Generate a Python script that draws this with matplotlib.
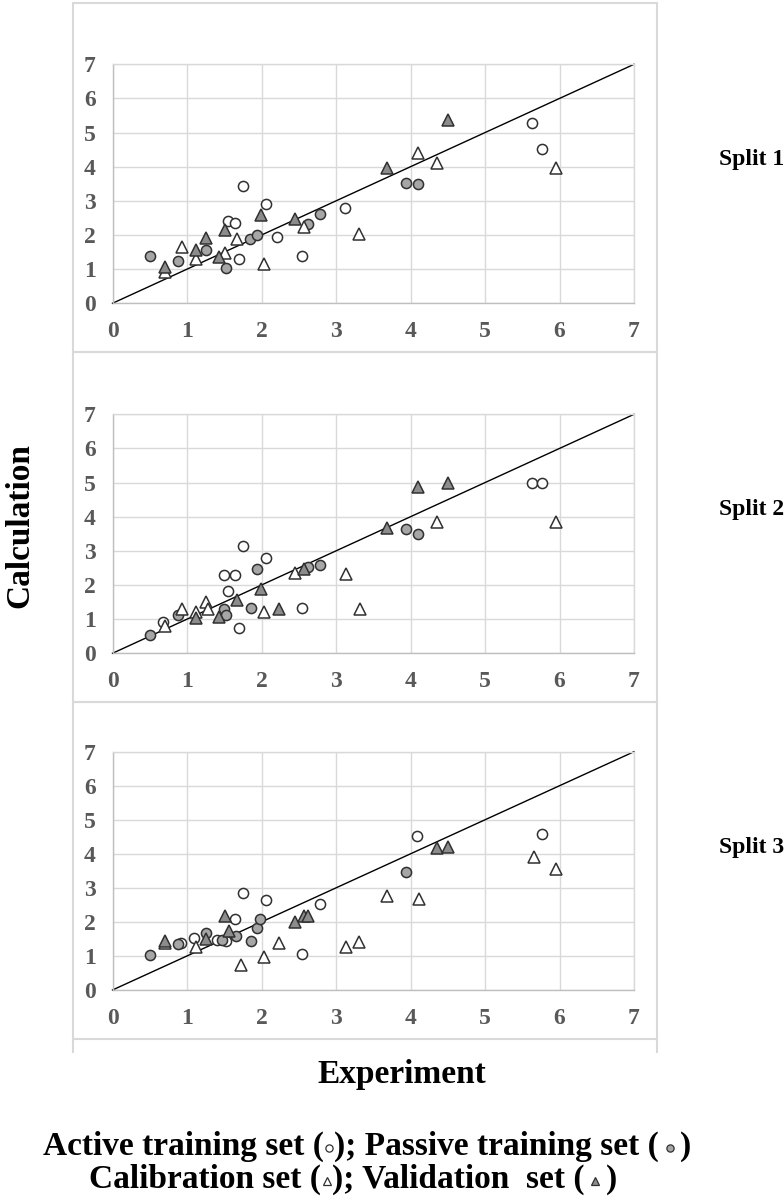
import numpy as np
import matplotlib
matplotlib.use('Agg')
import matplotlib.pyplot as plt
from matplotlib.lines import Line2D
from matplotlib.patches import Rectangle

# ── Data ──────────────────────────────────────────────────────────
SPLITS = ['Split 1', 'Split 2', 'Split 3']

# Split 1
s1_active_x = [1.555, 1.65, 1.75, 1.70, 2.06, 2.21, 2.55, 3.12, 5.63, 5.77]
s1_active_y = [2.42, 2.36, 3.45, 1.29, 2.90, 1.95, 1.39, 2.78, 5.27, 4.53]
s1_passive_x = [0.50, 0.875, 1.255, 1.52, 1.85, 1.94, 2.62, 2.79, 3.94, 4.10]
s1_passive_y = [1.39, 1.25, 1.56, 1.02, 1.87, 2.00, 2.32, 2.61, 3.51, 3.49]
s1_calib_x = [0.70, 0.93, 1.12, 1.51, 1.675, 2.04, 2.57, 3.31, 4.10, 4.35, 5.95]
s1_calib_y = [0.91, 1.66, 1.31, 1.46, 1.87, 1.15, 2.23, 2.02, 4.41, 4.10, 3.97]
s1_valid_x = [0.70, 1.12, 1.255, 1.43, 1.51, 1.99, 2.45, 3.68, 4.51]
s1_valid_y = [1.07, 1.56, 1.90, 1.37, 2.15, 2.59, 2.46, 3.95, 5.37]

# Split 2
s2_active_x = [0.68, 1.50, 1.65, 1.555, 1.70, 1.75, 2.06, 2.55, 5.63, 5.77]
s2_active_y = [0.91, 2.29, 2.29, 1.83, 0.73, 3.15, 2.80, 1.34, 5.00, 5.00]
s2_passive_x = [0.50, 0.88, 1.49, 1.52, 1.86, 1.94, 2.62, 2.79, 3.94, 4.10]
s2_passive_y = [0.54, 1.12, 1.30, 1.12, 1.34, 2.47, 2.54, 2.59, 3.64, 3.48]
s2_calib_x = [0.70, 0.93, 1.12, 1.255, 1.28, 2.04, 2.45, 3.13, 3.32, 4.35, 5.95]
s2_calib_y = [0.80, 1.29, 1.20, 1.49, 1.30, 1.22, 2.34, 2.32, 1.29, 3.84, 3.85]
s2_valid_x = [1.12, 1.43, 1.675, 1.99, 2.23, 2.57, 3.68, 4.10, 4.51]
s2_valid_y = [1.02, 1.07, 1.56, 1.87, 1.30, 2.47, 3.66, 4.86, 5.00]

# Split 3
s3_active_x = [0.92, 1.10, 1.40, 1.52, 1.65, 1.75, 2.06, 2.55, 2.79, 4.09, 5.77]
s3_active_y = [1.39, 1.52, 1.47, 1.44, 2.10, 2.86, 2.64, 1.06, 2.52, 4.53, 4.57]
s3_passive_x = [0.50, 0.875, 1.255, 1.47, 1.66, 1.86, 1.94, 1.98, 3.94]
s3_passive_y = [1.03, 1.35, 1.66, 1.47, 1.60, 1.45, 1.81, 2.10, 3.46]
s3_calib_x = [0.70, 1.12, 1.72, 2.04, 2.23, 3.13, 3.31, 3.68, 4.11, 5.66, 5.95]
s3_calib_y = [1.37, 1.27, 0.73, 0.98, 1.37, 1.27, 1.42, 2.77, 2.66, 3.92, 3.55]
s3_valid_x = [0.70, 1.255, 1.51, 1.565, 2.45, 2.57, 2.63, 4.35, 4.51]
s3_valid_y = [1.45, 1.49, 2.17, 1.73, 1.99, 2.18, 2.18, 4.18, 4.21]

TICKS = [0, 1, 2, 3, 4, 5, 6, 7]

# ── Style ─────────────────────────────────────────────────────────
SERIF = 'Liberation Serif'
TICK_COLOR = '#595959'
GRID_COLOR = '#d9d9d9'
EDGE = '#303030'
CIRCLE_FILL = '#a6a6a6'
TRI_FILL = '#8c8c8c'
FRAME_COLOR = '#d9d9d9'

W, H = 784, 1200
fig = plt.figure(figsize=(W / 100, H / 100), dpi=100)

# axes boxes: (top px, bottom px)
AX_LEFT, AX_RIGHT = 112.5, 634.0
AX_ROWS = [(64.3, 303.3), (414.3, 653.3), (751.7, 990.0)]
FRAMES = [(3, 352), (352, 702), (702, 1039)]

groups = [
    [(s1_active_x, s1_active_y), (s1_passive_x, s1_passive_y),
     (s1_calib_x, s1_calib_y), (s1_valid_x, s1_valid_y)],
    [(s2_active_x, s2_active_y), (s2_passive_x, s2_passive_y),
     (s2_calib_x, s2_calib_y), (s2_valid_x, s2_valid_y)],
    [(s3_active_x, s3_active_y), (s3_passive_x, s3_passive_y),
     (s3_calib_x, s3_calib_y), (s3_valid_x, s3_valid_y)],
]

marker_styles = [
    dict(marker='o', markersize=7.3, markerfacecolor='white'),
    dict(marker='o', markersize=7.3, markerfacecolor=CIRCLE_FILL),
    dict(marker='^', markersize=8.2, markerfacecolor='white'),
    dict(marker='^', markersize=8.2, markerfacecolor=TRI_FILL),
]

# panel frames
for top, bot in FRAMES:
    fig.add_artist(Rectangle((72.5 / W, 1 - bot / H), (656.5 - 72.5) / W,
                             (bot - top) / H, transform=fig.transFigure,
                             fill=False, edgecolor=FRAME_COLOR, lw=1.5))
# side lines running on a bit below the last frame
for xp in (72.5, 656.5):
    fig.add_artist(Line2D([xp / W, xp / W], [1 - 1039 / H, 1 - 1052 / H],
                          transform=fig.transFigure, color=FRAME_COLOR, lw=1.5))

for i, (top, bot) in enumerate(AX_ROWS):
    ax = fig.add_axes([AX_LEFT / W, 1 - bot / H, (AX_RIGHT - AX_LEFT) / W,
                       (bot - top) / H])
    ax.set_xlim(0, 7)
    ax.set_ylim(0, 7)
    ax.set_xticks(TICKS)
    ax.set_yticks(TICKS)
    ax.grid(True, color=GRID_COLOR, lw=1.0)
    ax.set_axisbelow(True)
    for side in ['top', 'right']:
        ax.spines[side].set_color(GRID_COLOR)
    for side in ['left', 'bottom']:
        ax.spines[side].set_color('#bfbfbf')
    for sp in ax.spines.values():
        sp.set_linewidth(1.0)
    ax.tick_params(length=0, labelsize=17, labelcolor=TICK_COLOR)
    ax.tick_params(axis='x', pad=13)
    ax.tick_params(axis='y', pad=12)
    for lab in ax.get_xticklabels() + ax.get_yticklabels():
        lab.set_fontfamily(SERIF)
        lab.set_fontweight('bold')

    # y = x line
    ax.plot([0, 7], [0, 7], color='black', lw=1.0, zorder=2, clip_on=False)

    for (xs, ys), st in zip(groups[i], marker_styles):
        ax.plot(xs, ys, ls='none', markeredgecolor=EDGE, markeredgewidth=1.1,
                zorder=3, clip_on=False, **st)

    ax.text(1.163, 0.6, SPLITS[i], transform=ax.transAxes, ha='left',
            va='center', fontsize=17, fontweight='bold', family=SERIF)

# axis titles
fig.text(20 / W, 1 - 526 / H, 'Calculation', rotation=90, ha='center',
         va='center', fontsize=24, fontweight='bold', family=SERIF)
fig.text(402 / W, 1 - 1074 / H, 'Experiment', ha='center', va='center',
         fontsize=24, fontweight='bold', family=SERIF)

# ── Legend lines built from text pieces + markers ─────────────────
renderer = fig.canvas.get_renderer()
LEG_SIZE = 24


def legend_line(y_px, center_px, parts):
    widths = []
    for p in parts:
        if isinstance(p, str):
            t = fig.text(0, 0, p, fontsize=LEG_SIZE, fontweight='bold',
                         family=SERIF)
            widths.append(t.get_window_extent(renderer).width)
            t.remove()
        elif isinstance(p, (int, float)):
            widths.append(p)
        else:
            widths.append(9)
    x = center_px - sum(widths) / 2
    for p, w in zip(parts, widths):
        if isinstance(p, str):
            fig.text(x / W, 1 - y_px / H, p, fontsize=LEG_SIZE,
                     fontweight='bold', family=SERIF, ha='left',
                     va='baseline')
        elif isinstance(p, dict):
            fig.add_artist(Line2D([(x + w / 2) / W], [1 - (y_px - 7.5) / H],
                                  transform=fig.transFigure, ls='none',
                                  markeredgecolor=EDGE, markeredgewidth=0.9,
                                  **p))
        x += w


small_open_c = dict(marker='o', markersize=5.2, markerfacecolor='white')
small_fill_c = dict(marker='o', markersize=5.2, markerfacecolor=CIRCLE_FILL)
small_open_t = dict(marker='^', markersize=5.8, markerfacecolor='white')
small_fill_t = dict(marker='^', markersize=5.8, markerfacecolor=TRI_FILL)

legend_line(1155, 367, ['Active training set (', 1, small_open_c, 1,
                        '); Passive training set (', 6, small_fill_c, 6, ')'])
legend_line(1188, 353, ['Calibration set (', 1, small_open_t, 1,
                        '); Validation  set (', 6, small_fill_t, 6, ')'])

fig.savefig('out.png', dpi=100)
